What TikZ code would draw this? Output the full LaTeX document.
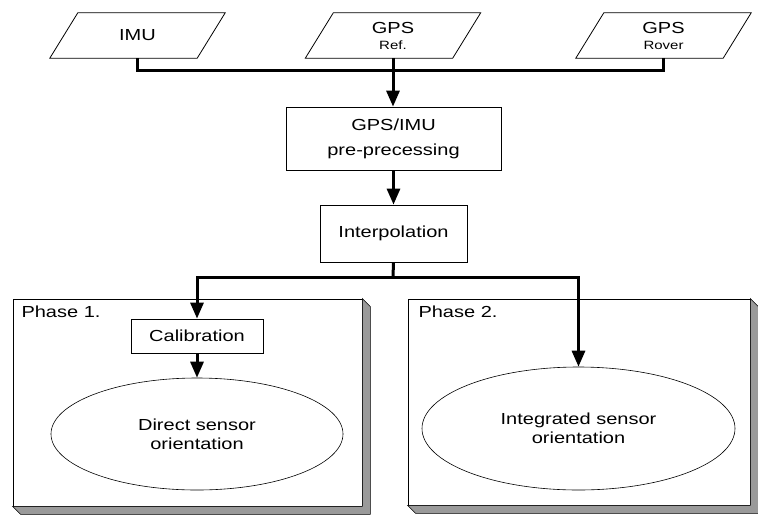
\documentclass[tikz,border=0pt]{standalone}
\usepackage{fontspec}
\setmainfont{Liberation Sans}[FakeStretch=1.25]
\usetikzlibrary{arrows.meta,shapes.geometric}
\definecolor{shadowgray}{HTML}{9A9A9A}
\begin{document}
\begin{tikzpicture}[x=1pt,y=-1pt,
  txt/.style={font=\fontsize{16}{19}\selectfont, align=center},
  small/.style={font=\fontsize{12}{14}\selectfont},
  inbox/.style={txt, minimum width=147pt, minimum height=45pt, inner sep=0pt},
  para/.style={line width=0.8pt},
  box/.style={txt, draw, line width=0.8pt, fill=white, inner sep=0pt},
  phase/.style={draw, line width=0.8pt, fill=white, inner sep=0pt},
  shadow/.style={draw, line width=0.6pt, fill=shadowgray},
  oval/.style={txt, draw, ellipse, line width=0.6pt, inner sep=0pt},
  conn/.style={line width=3pt},
  arr/.style={conn, -{Triangle[length=16pt,width=13pt]}}
]
\useasboundingbox (0,0) rectangle (758,515);

% ---- input parallelograms
\node[inbox] (imu) at (137.5,35.5) {IMU};
\node[inbox] (gpsref) at (393,35.5) {GPS\\[-3pt]{\fontsize{12}{14}\selectfont Ref.}};
\node[inbox] (rover) at (663.5,35.5) {GPS\\[-3pt]{\fontsize{12}{14}\selectfont Rover}};
\foreach \n in {imu,gpsref,rover}{
  \draw[para] ([xshift=-14pt]\n.south west) -- ([xshift=-14pt]\n.south east)
    -- ([xshift=14pt]\n.north east) -- ([xshift=14pt]\n.north west) -- cycle;
}

% ---- processing boxes
\node[box, minimum width=215pt, minimum height=63pt] (pre) at (393.5,138.5)
  {GPS/IMU\\[6pt]pre-precessing};
\node[box, minimum width=147pt, minimum height=57pt] (interp) at (393.5,233.5)
  {Interpolation};

% ---- phase boxes with shadows
\node[phase, minimum width=349pt, minimum height=207pt] (ph1) at (187.5,402.5) {};
\node[phase, minimum width=342pt, minimum height=206pt] (ph2) at (579,402) {};
\foreach \n in {ph1,ph2}{
  \draw[shadow] (\n.north east) -- ([shift={(8,8)}]\n.north east)
    -- ([shift={(8,8)}]\n.south east) -- ([shift={(8,8)}]\n.south west)
    -- (\n.south west) -- (\n.south east) -- cycle;
}
\node[txt, anchor=base west] (lab1) at (18,317) {Phase 1.};
\node[txt, anchor=base west] (lab2) at (415,317) {Phase 2.};

\node[box, minimum width=132pt, minimum height=34pt] (calib) at (197,336) {Calibration};
\node[oval, minimum width=292pt, minimum height=112pt] (dso) at (197,434)
  {Direct sensor\\orientation};
\node[oval, minimum width=313pt, minimum height=123pt] (iso) at (578.5,428.5)
  {Integrated sensor\\orientation};

% ---- connectors
\coordinate (top) at (393,70);
\coordinate (split) at (393,277);
\draw[conn] (imu.south) -- (imu.south |- top) -- (rover.south |- top) -- (rover.south);
\draw[arr] (gpsref.south) -- (pre.north -| gpsref.south);
\draw[arr] (pre.south -| interp.north) -- (interp.north);
\draw[conn] (interp.south) -- (split);
\draw[arr] (split) -- (calib.north |- split) -- (calib.north);
\draw[arr] (split) -- (iso.north |- split) -- (iso.north);
\draw[arr] (calib.south) -- (dso.north);
\end{tikzpicture}
\end{document}
